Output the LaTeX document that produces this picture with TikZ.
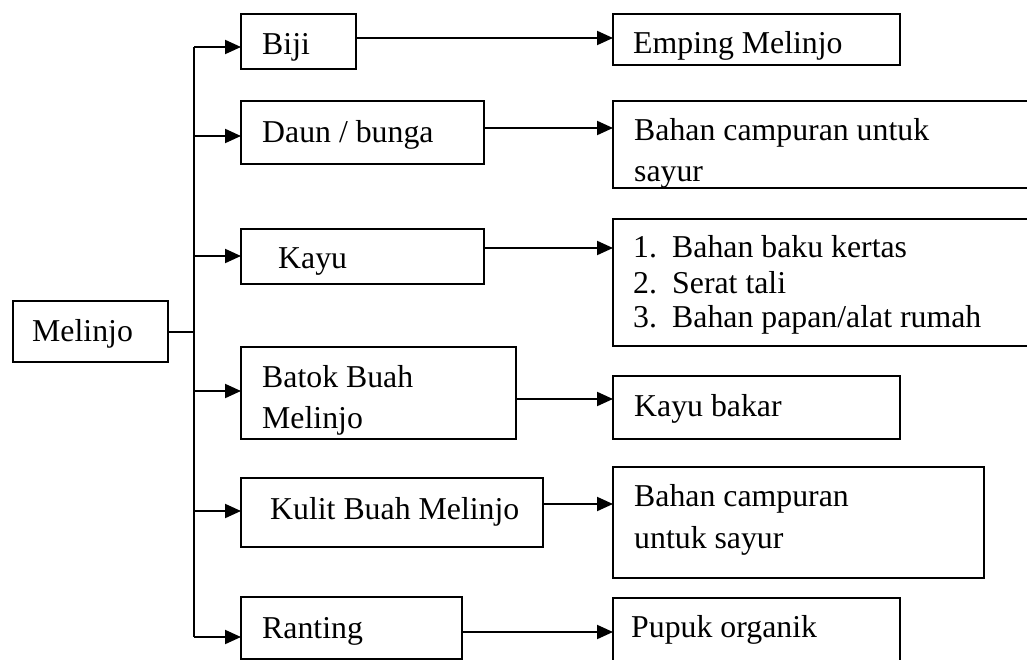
\documentclass[tikz,border=0pt]{standalone}
\usepackage{fontspec}
\setmainfont{Liberation Serif}
\usetikzlibrary{arrows.meta}
\begin{document}
\begin{tikzpicture}[x=1pt,y=-1pt,
  box/.style={draw,line width=2pt,inner sep=0pt,outer sep=0pt,rectangle},
  txt/.style={anchor=base west,inner sep=0pt,font=\fontsize{31.8}{41}\selectfont},
  link/.style={line width=2pt},
  arr/.style={line width=2pt,-{Triangle[length=16pt,width=14pt]}}]
\useasboundingbox (0,0) rectangle (1027,660);
\clip (0,0) rectangle (1027,660);

% root
\node[box,minimum width=155pt,minimum height=61pt] (melinjo) at (90.5,331.5) {};
\node[txt] (melinjoT) at (32,341) {Melinjo};

% plant parts
\node[box,minimum width=115pt,minimum height=55pt] (biji) at (298.5,41.5) {};
\node[box,minimum width=243pt,minimum height=63pt] (daun) at (362.5,132.5) {};
\node[box,minimum width=243pt,minimum height=55pt] (kayu) at (362.5,256.5) {};
\node[box,minimum width=275pt,minimum height=92pt] (batok) at (378.5,393) {};
\node[box,minimum width=302pt,minimum height=69pt] (kulit) at (392,512.5) {};
\node[box,minimum width=221pt,minimum height=62pt] (ranting) at (351.5,628) {};

\node[txt] (bijiT) at (262,55) {Biji};
\node[txt] (daunT) at (262,143) {Daun / bunga};
\node[txt] (kayuT) at (278,268) {Kayu};
\node[txt] (batokT1) at (262,387) {Batok Buah};
\node[txt] (batokT2) at (262,428) {Melinjo};
\node[txt] (kulitT) at (270,519) {Kulit Buah Melinjo};
\node[txt] (rantingT) at (262,638) {Ranting};

% uses
\node[box,minimum width=287pt,minimum height=51pt] (emping) at (756.5,39.5) {};
\node[box,minimum width=427pt,minimum height=87pt] (campur1) at (826.5,144.5) {};
\node[box,minimum width=427pt,minimum height=127pt] (daftar) at (826.5,282.5) {};
\node[box,minimum width=287pt,minimum height=63pt] (bakar) at (756.5,407.5) {};
\node[box,minimum width=371pt,minimum height=111pt] (campur2) at (798.5,522.5) {};
\node[box,minimum width=287pt,minimum height=102pt] (pupuk) at (756.5,649) {};

\node[txt] (empingT) at (633,54) {Emping Melinjo};
\node[txt] (campur1T1) at (634,141) {Bahan campuran untuk};
\node[txt] (campur1T2) at (634,182) {sayur};
\node[txt] (n1) at (633,258) {1.};
\node[txt] (n2) at (633,293) {2.};
\node[txt] (n3) at (633,327) {3.};
\node[txt] (d1) at (672,258) {Bahan baku kertas};
\node[txt] (d2) at (672,293) {Serat tali};
\node[txt] (d3) at (672,327) {Bahan papan/alat rumah};
\node[txt] (bakarT) at (634,416) {Kayu bakar};
\node[txt] (campur2T1) at (634,506) {Bahan campuran};
\node[txt] (campur2T2) at (634,548) {untuk sayur};
\node[txt] (pupukT) at (631,637) {Pupuk organik};

% branching trunk
\coordinate (j0) at (194,332);
\coordinate (t1) at (194,47);
\coordinate (t2) at (194,136);
\coordinate (t3) at (194,256);
\coordinate (t4) at (194,391);
\coordinate (t5) at (194,511);
\coordinate (t6) at (194,637);
\draw[link] (melinjo.east |- j0) -- (j0);
\draw[link] (t1) -- (t6);
\draw[arr] (t1) -- (t1 -| biji.west);
\draw[arr] (t2) -- (t2 -| daun.west);
\draw[arr] (t3) -- (t3 -| kayu.west);
\draw[arr] (t4) -- (t4 -| batok.west);
\draw[arr] (t5) -- (t5 -| kulit.west);
\draw[arr] (t6) -- (t6 -| ranting.west);

% part -> use
\coordinate (r1) at (0,38);
\coordinate (r2) at (0,128);
\coordinate (r3) at (0,248);
\coordinate (r4) at (0,399);
\coordinate (r5) at (0,504);
\coordinate (r6) at (0,632);
\draw[arr] (biji.east |- r1) -- (emping.west |- r1);
\draw[arr] (daun.east |- r2) -- (campur1.west |- r2);
\draw[arr] (kayu.east |- r3) -- (daftar.west |- r3);
\draw[arr] (batok.east |- r4) -- (bakar.west |- r4);
\draw[arr] (kulit.east |- r5) -- (campur2.west |- r5);
\draw[arr] (ranting.east |- r6) -- (pupuk.west |- r6);
\end{tikzpicture}
\end{document}
